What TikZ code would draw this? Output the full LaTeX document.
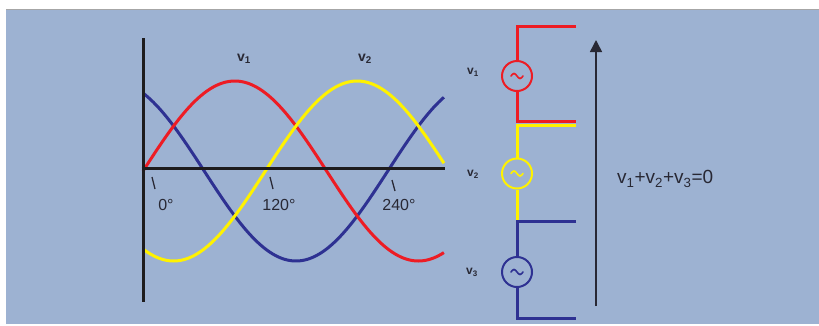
\documentclass[tikz,border=0pt]{standalone}
\usepackage{fontspec}
\setmainfont{Liberation Sans}
\usetikzlibrary{arrows.meta}
\definecolor{bgblue}{RGB}{157,178,210}
\definecolor{wred}{RGB}{237,28,36}
\definecolor{wyellow}{RGB}{255,242,0}
\definecolor{wblue}{RGB}{46,49,146}
\definecolor{ink}{RGB}{40,40,52}
\definecolor{axisblack}{RGB}{30,28,30}
\tikzset{
  wave/.style={line width=3pt},
  wire/.style={line width=3pt, line join=miter},
  source/.style={circle, draw, line width=2pt, minimum size=30pt, inner sep=0pt},
  axisline/.style={line width=3pt, color=axisblack},
  tickmark/.style={line width=1.3pt, color=ink},
  deglabel/.style={text=ink, font=\fontsize{16}{16}\selectfont, inner sep=0pt},
  vlabel/.style={text=ink, font=\fontsize{14}{14}\selectfont\bfseries, inner sep=0pt},
  clabel/.style={text=ink, font=\fontsize{12}{12}\selectfont\bfseries, inner sep=0pt},
  eqlabel/.style={text=ink, font=\fontsize{19}{19}\selectfont, inner sep=0pt},
}
\newcommand{\tildemark}[2]{%
  \draw[#1, line width=1.6pt, line cap=round] ([xshift=-6pt]#2.center)
    sin ++(3pt,2.5pt) cos ++(3pt,-2.5pt) sin ++(3pt,-2.5pt) cos ++(3pt,2.5pt);}
\begin{document}
\begin{tikzpicture}[x=1pt, y=-1pt]
\useasboundingbox (0,0) rectangle (819,325);
\fill[bgblue] (6,9) rectangle (819,324);
\draw[gray!70, line width=0.6pt] (6,9) -- (819,9);

% waves
\draw[wave, wblue] plot[domain=0:295, samples=120, smooth] ({143+1.02*\x}, {171-90*sin(\x+120)});
\draw[wave, wred] plot[domain=0:295, samples=120, smooth] ({143+1.02*\x}, {171-90*sin(\x)});
\draw[wave, wyellow] plot[domain=0:295, samples=120, smooth] ({143+1.02*\x}, {171-90*sin(\x-120)});

% axes
\draw[axisline] (143,38) -- (143,302);
\draw[axisline] (141.5,168) -- (445,168);

% ticks and degree labels
\draw[tickmark] (152,177) -- (155,189);
\draw[tickmark] (270,177) -- (273,189);
\draw[tickmark] (392,180) -- (395,191);
\node[deglabel] (d0) at (166,205) {0°};
\node[deglabel] (d120) at (279,205) {120°};
\node[deglabel] (d240) at (399,205) {240°};

% wave labels
\node[vlabel] (lv1) at (244,59) {v\textsubscript{1}};
\node[vlabel] (lv2) at (365,59) {v\textsubscript{2}};

% circuit
\node[source, draw=wred] (s1) at (517,76) {};
\node[source, draw=wyellow] (s2) at (517,173.5) {};
\node[source, draw=wblue] (s3) at (517,272) {};
\tildemark{wred}{s1}
\tildemark{wyellow}{s2}
\tildemark{wblue}{s3}

\coordinate (r0) at (576,26);
\coordinate (r1) at (517,26);
\coordinate (r2) at (517,121.5);
\coordinate (r3) at (576,121.5);
\coordinate (y0) at (576,125.5);
\coordinate (y1) at (517,125.5);
\coordinate (y2) at (517,220);
\coordinate (b0) at (576,221.5);
\coordinate (b1) at (517,221.5);
\coordinate (b2) at (517,318);
\coordinate (b3) at (576,318);

\draw[wire, wred] (r0) -- (r1) -- (s1.north);
\draw[wire, wred] (s1.south) -- (r2) -- (r3);
\draw[wire, wyellow] (y0) -- (y1) -- (s2.north);
\draw[wire, wyellow] (s2.south) -- (y2);
\draw[wire, wblue] (b0) -- (b1) -- (s3.north);
\draw[wire, wblue] (s3.south) -- (b2) -- (b3);

\node[clabel] (c1) at (473,72) {v\textsubscript{1}};
\node[clabel] (c2) at (473,174) {v\textsubscript{2}};
\node[clabel] (c3) at (472,272) {v\textsubscript{3}};

% arrow
\coordinate (ab) at (596,306);
\coordinate (at) at (596,40);
\draw[line width=1.5pt, color=ink, -{Triangle[length=12pt, width=12pt]}] (ab) -- (at);

\node[eqlabel, anchor=west] (eq) at (617,179) {v\textsubscript{1}+v\textsubscript{2}+v\textsubscript{3}=0};
\end{tikzpicture}
\end{document}
